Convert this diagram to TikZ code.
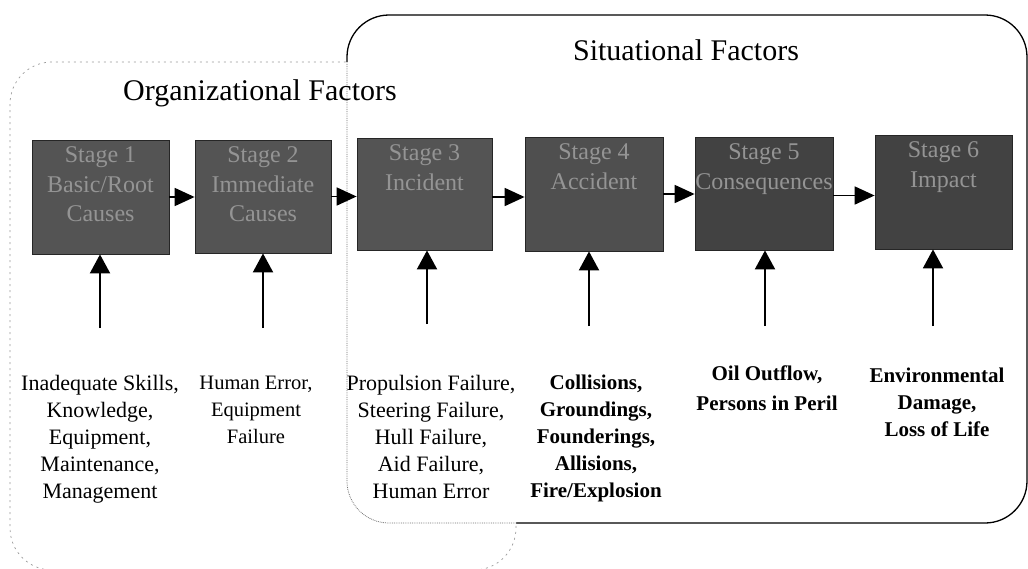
\documentclass[tikz,border=0pt]{standalone}
\usepackage{fontspec}
\setmainfont{Liberation Serif}
\usetikzlibrary{arrows.meta}
\tikzset{
  stagebox/.style={draw=black!85, line width=0.8pt, inner sep=0pt},
  stagetxt/.style={anchor=north, align=center, inner sep=0pt, text=black!42,
    font=\fontsize{24}{29.5}\selectfont},
  lbl/.style={anchor=north, align=center, inner sep=0pt, font=\fontsize{22}{27}\selectfont},
  lblb/.style={lbl, font=\fontsize{21}{27}\selectfont\bfseries},
  title/.style={inner sep=0pt, font=\fontsize{30}{34}\selectfont},
  harrow/.style={line width=1.8pt, -{Triangle[length=20pt,width=18pt]}},
  varrow/.style={line width=2pt, -{Triangle[length=19pt,width=20pt]}},
}
\begin{document}
\begin{tikzpicture}[x=1pt,y=-1pt]
\useasboundingbox (0,0) rectangle (1028,568);
% organizational factors frame (faint, dotted)
\draw[black!40, line width=0.7pt, dash pattern=on 2pt off 4pt, rounded corners=42pt]
  (10,62) rectangle (516,570);
% situational factors frame
\fill[white, rounded corners=42pt] (347,15) rectangle (1027,523);
\draw[black, line width=1.3pt, rounded corners=42pt] (347,15) rectangle (1027,523);
\begin{scope}
  \clip[rounded corners=42pt] (10,62) rectangle (516,570);
  \draw[white, line width=3pt, rounded corners=42pt] (347,15) rectangle (1027,523);
  \draw[black!55, line width=0.8pt, densely dotted, rounded corners=42pt] (347,15) rectangle (1027,523);
\end{scope}
% titles
\node[title] (tsit) at (686,50) {Situational Factors};
\node[title] (torg) at (260,93) {Organizational Factors};
% stage boxes
\node[stagebox, fill=black!67, minimum width=137pt, minimum height=114pt] (s1) at (100.5,197) {};
\node[stagebox, fill=black!67, minimum width=136pt, minimum height=113pt] (s2) at (263,196.5) {};
\node[stagebox, fill=black!67, minimum width=135pt, minimum height=112pt] (s3) at (424.5,194) {};
\node[stagebox, fill=black!69, minimum width=138pt, minimum height=114pt] (s4) at (594,194) {};
\node[stagebox, fill=black!74, minimum width=138pt, minimum height=113pt] (s5) at (764,193.5) {};
\node[stagebox, fill=black!74, minimum width=137pt, minimum height=114pt] (s6) at (943.5,192) {};
\node[stagetxt] (t1) at ([yshift=-7pt]s1.north) {Stage 1\\Basic/Root\\Causes};
\node[stagetxt] (t2) at ([yshift=-7pt]s2.north) {Stage 2\\Immediate\\Causes};
\node[stagetxt] (t3) at ([yshift=-7pt]s3.north) {Stage 3\\Incident};
\node[stagetxt] (t4) at ([yshift=-7pt]s4.north) {Stage 4\\Accident};
\node[stagetxt] (t5) at ([yshift=-7pt]s5.north) {Stage 5\\Consequences};
\node[stagetxt] (t6) at ([yshift=-7pt]s6.north) {Stage 6\\Impact};
% horizontal arrows
\draw[harrow] ([yshift=0pt]s1.east) -- (s1.east -| s2.west);
\draw[harrow] ([yshift=0pt]s2.east) -- (s2.east -| s3.west);
\draw[harrow] ([yshift=-3pt]s3.east) -- ([yshift=-3pt]s3.east -| s4.west);
\draw[harrow] ([yshift=0pt]s4.east) -- (s4.east -| s5.west);
\draw[harrow] ([yshift=-2pt]s5.east) -- ([yshift=-2pt]s5.east -| s6.west);
% vertical arrows
\coordinate (a1) at (100,328);
\coordinate (a2) at (263,328);
\coordinate (a3) at (427,324);
\coordinate (a4) at (589,326);
\coordinate (a5) at (765,326);
\coordinate (a6) at (933,326);
\draw[varrow] (a1) -- (a1 |- s1.south);
\draw[varrow] (a2) -- (a2 |- s2.south);
\draw[varrow] (a3) -- (a3 |- s3.south);
\draw[varrow] (a4) -- (a4 |- s4.south);
\draw[varrow] (a5) -- (a5 |- s5.south);
\draw[varrow] (a6) -- (a6 |- s6.south);
% labels
\node[lbl] (l1) at (100,375) {Inadequate Skills,\\Knowledge,\\Equipment,\\Maintenance,\\Management};
\node[lbl, font=\fontsize{20.5}{27}\selectfont] (l2) at (256,376) {Human Error,\\Equipment\\Failure};
\node[lbl] (l3) at (431,375) {Propulsion Failure,\\Steering Failure,\\Hull Failure,\\Aid Failure,\\Human Error};
\node[lblb] (l4) at (596,375) {Collisions,\\Groundings,\\Founderings,\\Allisions,\\Fire/Explosion};
\node[lblb, font=\fontsize{21}{30}\selectfont\bfseries] (l5) at (767,366) {Oil Outflow,\\Persons in Peril};
\node[lblb] (l6) at (937,368) {Environmental\\Damage,\\Loss of Life};
\end{tikzpicture}
\end{document}
